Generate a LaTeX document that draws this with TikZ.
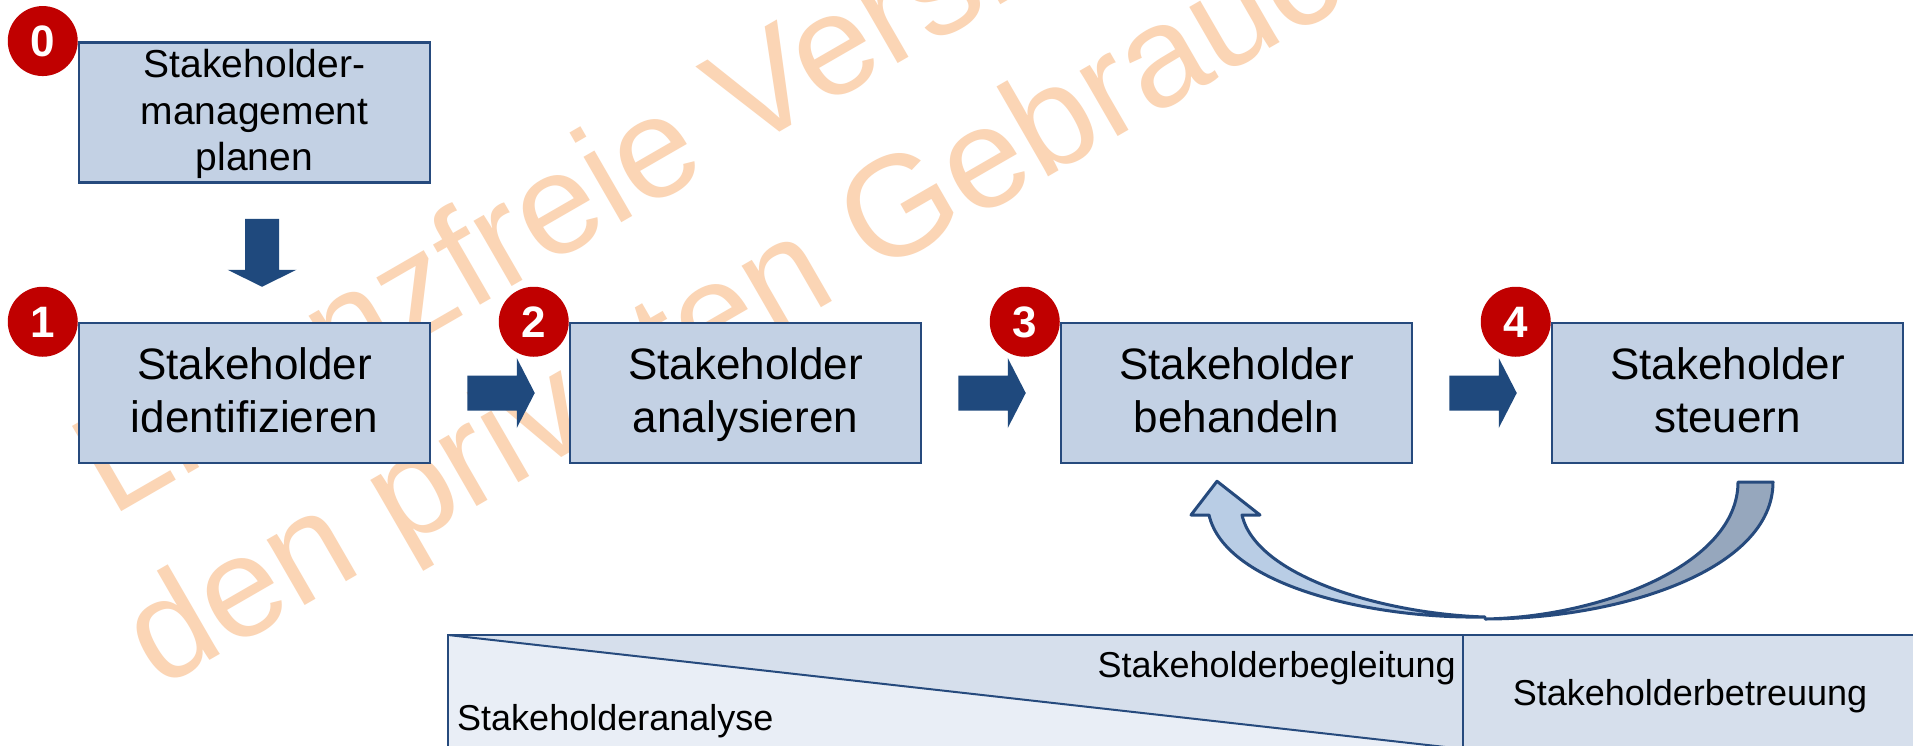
\documentclass[tikz,border=0pt]{standalone}
\usepackage{fontspec}
\setmainfont{Liberation Sans}
\usetikzlibrary{calc}
\definecolor{boxfill}{RGB}{195,209,228}
\definecolor{boxline}{RGB}{38,74,125}
\definecolor{arrowblue}{RGB}{31,73,125}
\definecolor{badgered}{RGB}{192,0,0}
\definecolor{wmcolor}{RGB}{251,213,181}
\definecolor{barlight}{RGB}{233,238,246}
\definecolor{bardark}{RGB}{214,223,236}
\definecolor{barline}{RGB}{38,74,125}
\definecolor{curvefront}{RGB}{185,205,229}
\definecolor{curveback}{RGB}{150,167,189}
\newcommand{\ls}{\rule[-0.3em]{0pt}{1.2em}}
\newcommand{\myhblock}[2]{%
  \fill[arrowblue] ($(#1)+(0,-17.5)$) -- ($(#2)+(-18,-17.5)$) -- ($(#2)+(-18,-35)$) -- (#2)
    -- ($(#2)+(-18,35)$) -- ($(#2)+(-18,17.5)$) -- ($(#1)+(0,17.5)$) -- cycle;}
\begin{document}
\begin{tikzpicture}[x=1pt,y=-1pt,
  box/.style={draw=boxline, fill=boxfill, line width=2.5pt, minimum width=351pt,
    minimum height=140pt, inner sep=0pt, align=center,
    font=\fontsize{44}{52.8}\selectfont},
  box0/.style={box, font=\fontsize{39}{46.8}\selectfont},
  badge/.style={circle, fill=badgered, minimum size=70pt, inner sep=0pt, text=white,
    font=\bfseries\fontsize{44}{44}\selectfont, text height=31.5pt, text depth=0pt},
  wm/.style={text=wmcolor, font=\fontsize{143}{172}\selectfont, inner sep=0pt,
    anchor=base west, rotate=30},
  bartext/.style={inner sep=0pt, font=\fontsize{36}{43}\selectfont},
  barstroke/.style={draw=barline, line width=2pt},
  curvestroke/.style={draw=boxline, line width=3pt, line join=round}
]
\useasboundingbox (0,0) rectangle (1913,746);
\begin{scope}
\clip (0,0) rectangle (1913,746);
\fill[white] (0,0) rectangle (1913,746);

% watermark
\node[wm] (wm1) at (111,518) {Lizenzfreie Version für};
\node[wm] (wm2) at (159,690) {den privaten Gebrauch};

% bottom bar
\fill[barlight] (448,635) -- (1463,749) -- (1463,760) -- (448,760) -- cycle;
\fill[bardark] (448,635) -- (1463,635) -- (1463,749) -- cycle;
\fill[bardark] (1463,635) rectangle (1920,760);
\draw[barstroke] (448,760) -- (448,635) -- (1920,635);
\draw[barstroke] (1463,635) -- (1463,760);
\draw[barstroke] (448,635) -- (1463,749);
\node[bartext, anchor=base east] (tbeg) at (1456,677) {Stakeholderbegleitung};
\node[bartext, anchor=base] (tbet) at (1690,705) {Stakeholderbetreuung};
\node[bartext, anchor=base west] (tana) at (457,730) {Stakeholderanalyse};

% boxes
\node[box0] (b0) at (254.5,112.5) {\ls Stakeholder-\\\ls management\\\ls planen};
\node[box] (b1) at (254.5,393) {\ls Stakeholder\\\ls identifizieren};
\node[box] (b2) at (745.5,393) {\ls Stakeholder\\\ls analysieren};
\node[box] (b3) at (1236.5,393) {\ls Stakeholder\\\ls behandeln};
\node[box] (b4) at (1727.5,393) {\ls Stakeholder\\\ls steuern};

% block arrows
\coordinate (d01s) at ($(b0.south)+(7.5,35)$);
\coordinate (d01e) at ($(b1.north)+(7.5,-35)$);
\fill[arrowblue] ($(d01s)+(-17,0)$) -- ($(d01e)+(-17,-17)$) -- ($(d01e)+(-34.5,-17)$) -- (d01e)
  -- ($(d01e)+(34.5,-17)$) -- ($(d01e)+(17,-17)$) -- ($(d01s)+(17,0)$) -- cycle;
\coordinate (a12s) at ($(b1.east)+(36,0)$);
\coordinate (a12e) at ($(b2.west)+(-34,0)$);
\coordinate (a23s) at ($(b2.east)+(36,0)$);
\coordinate (a23e) at ($(b3.west)+(-34,0)$);
\coordinate (a34s) at ($(b3.east)+(36,0)$);
\coordinate (a34e) at ($(b4.west)+(-34,0)$);
\myhblock{a12s}{a12e}
\myhblock{a23s}{a23e}
\myhblock{a34s}{a34e}

% badges
\node[badge] (n0) at ($(b0.north west)+(-35,0)$) {0};
\node[badge] (n1) at ($(b1.north west)+(-35,0)$) {1};
\node[badge] (n2) at ($(b2.north west)+(-35,0)$) {2};
\node[badge] (n3) at ($(b3.north west)+(-35,0)$) {3};
\node[badge] (n4) at ($(b4.north west)+(-35,0)$) {4};

% curved arrow from 4 back to 3
\coordinate (ct) at ($(b4.south)+(27.5,19)$);
\coordinate (ch) at ($(b3.south)+(-19.5,17)$);
\filldraw[fill=curveback, curvestroke] (1738,482) -- (1773,482)
  .. controls (1773,570) and (1620,619) .. (1485,619)
  .. controls (1600,617) and (1738,565) .. (1738,482) -- cycle;
\filldraw[fill=curvefront, curvestroke] (ch) -- (1260,515) -- (1242,515)
  .. controls (1256,577) and (1385,614) .. (1485,617)
  .. controls (1370,619) and (1225,585) .. (1209,515)
  -- (1191,515) -- cycle;
\end{scope}
\end{tikzpicture}
\end{document}
